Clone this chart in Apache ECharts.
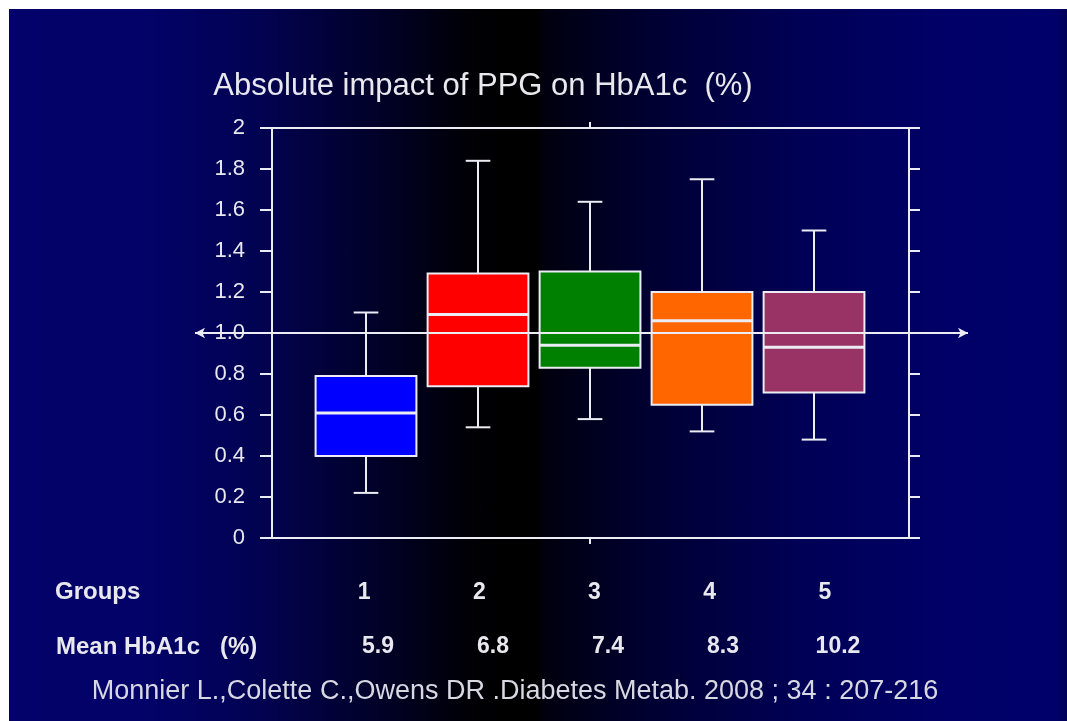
<!DOCTYPE html>
<html>
<head>
<meta charset="utf-8">
<script src="https://cdn.jsdelivr.net/npm/echarts@6/dist/echarts.min.js"></script>
<style>
  html, body { margin: 0; padding: 0; background: #ffffff; }
  #bg {
    position: absolute; left: 9px; top: 9px; width: 1058px; height: 712px;
    background: linear-gradient(to right,
      #02026a 0%, #020268 13%, #020252 23.5%, #010128 35%, #000006 43.5%,
      #000000 47%, #000000 50%, #00000e 50.5%, #000032 60.5%, #000056 75%,
      #000068 89%, #00006a 98.6%, #00005a 100%);
  }
  #chart { position: absolute; left: 0; top: 0; width: 1067px; height: 721px; }
</style>
</head>
<body>
<div id="bg"></div>
<div id="chart"></div>
<script>
// ---- data ----
const groups = ['1', '2', '3', '4', '5'];
const meanHbA1c = ['5.9', '6.8', '7.4', '8.3', '10.2'];
const whiskerLow = [0.22, 0.54, 0.58, 0.52, 0.48];
const q1 = [0.40, 0.74, 0.83, 0.65, 0.71];
const median = [0.61, 1.09, 0.94, 1.06, 0.93];
const q3 = [0.79, 1.29, 1.30, 1.20, 1.20];
const whiskerHigh = [1.10, 1.84, 1.64, 1.75, 1.50];
const yTickLabels = ['0', '0.2', '0.4', '0.6', '0.8', '1.0', '1.2', '1.4', '1.6', '1.8', '2'];
const referenceValue = 1.0;
const titleText = 'Absolute impact of PPG on HbA1c  (%)';
const citation = 'Monnier L.,Colette C.,Owens DR .Diabetes Metab. 2008 ; 34 : 207-216';

// ---- styles ----
const boxColors = ['#0000ff', '#ff0000', '#008000', '#ff6600', '#993366'];
const lineColor = '#ececf4';
const textColor = '#e8e8ee';
const FONT = '"Liberation Sans", Arial, sans-serif';

const boxData = groups.map((g, i) => [i + 1, whiskerLow[i], q1[i], median[i], q3[i], whiskerHigh[i]]);

const chart = echarts.init(document.getElementById('chart'), null, { renderer: 'canvas' });

function renderBox(params, api) {
  const x = api.value(0);
  const pLow = api.coord([x, api.value(1)]);
  const pQ1 = api.coord([x, api.value(2)]);
  const pMed = api.coord([x, api.value(3)]);
  const pQ3 = api.coord([x, api.value(4)]);
  const pHigh = api.coord([x, api.value(5)]);
  const halfW = api.size([0.9, 0])[0] / 2;
  const capHalf = api.size([0.22, 0])[0] / 2;
  const cx = pMed[0];
  const ls = { stroke: lineColor, lineWidth: 2 };
  return {
    type: 'group',
    children: [
      { type: 'line', shape: { x1: cx, y1: pQ1[1], x2: cx, y2: pLow[1] }, style: ls },
      { type: 'line', shape: { x1: cx, y1: pQ3[1], x2: cx, y2: pHigh[1] }, style: ls },
      { type: 'line', shape: { x1: cx - capHalf, y1: pLow[1], x2: cx + capHalf, y2: pLow[1] }, style: ls },
      { type: 'line', shape: { x1: cx - capHalf, y1: pHigh[1], x2: cx + capHalf, y2: pHigh[1] }, style: ls },
      { type: 'rect', shape: { x: cx - halfW, y: pQ3[1], width: halfW * 2, height: pQ1[1] - pQ3[1] },
        style: { fill: boxColors[params.dataIndex], stroke: lineColor, lineWidth: 2 } },
      { type: 'line', shape: { x1: cx - halfW, y1: pMed[1], x2: cx + halfW, y2: pMed[1] },
        style: { stroke: lineColor, lineWidth: 3 } }
    ]
  };
}

const option = {
  backgroundColor: 'transparent',
  animation: false,
  grid: [
    { left: 272, top: 128, width: 637, height: 410 },          // frame + boxes
    { left: 195, top: 128, width: 773, height: 410 },          // reference line
    { left: 306.5, top: 560, width: 576, height: 20 },         // group numbers row
    { left: 320.5, top: 610, width: 575, height: 20 }          // mean HbA1c row
  ],
  xAxis: [
    { gridIndex: 0, type: 'value', position: 'bottom', min: 0.1607, max: 5.848,
      axisLine: { show: true, onZero: false, lineStyle: { color: lineColor, width: 2 } },
      axisTick: { show: true, inside: false, length: 6, customValues: [3], lineStyle: { color: lineColor, width: 2 } },
      axisLabel: { show: false }, splitLine: { show: false } },
    { gridIndex: 0, type: 'value', position: 'top', min: 0.1607, max: 5.848,
      axisLine: { show: true, onZero: false, lineStyle: { color: lineColor, width: 2 } },
      axisTick: { show: true, inside: false, length: 6, customValues: [3], lineStyle: { color: lineColor, width: 2 } },
      axisLabel: { show: false }, splitLine: { show: false } },
    { gridIndex: 1, type: 'value', min: 0, max: 1, show: false },
    { gridIndex: 2, type: 'category', data: groups, position: 'bottom',
      axisLine: { show: false }, axisTick: { show: false },
      axisLabel: { color: textColor, fontFamily: FONT, fontWeight: 'bold', fontSize: 23,
                   verticalAlign: 'middle', margin: 13 } },
    { gridIndex: 3, type: 'category', data: meanHbA1c, position: 'bottom',
      axisLine: { show: false }, axisTick: { show: false },
      axisLabel: { color: textColor, fontFamily: FONT, fontWeight: 'bold', fontSize: 23,
                   verticalAlign: 'middle', margin: 17 } }
  ],
  yAxis: [
    { gridIndex: 0, type: 'value', position: 'left', min: 0, max: 2, interval: 0.2,
      axisLine: { show: true, onZero: false, lineStyle: { color: lineColor, width: 2 } },
      axisTick: { show: true, inside: false, length: 12, lineStyle: { color: lineColor, width: 2 } },
      axisLabel: { color: textColor, fontFamily: FONT, fontSize: 22, margin: 27,
                   formatter: v => yTickLabels[Math.round(v / 0.2)] },
      splitLine: { show: false } },
    { gridIndex: 0, type: 'value', position: 'right', min: 0, max: 2, interval: 0.2,
      axisLine: { show: true, onZero: false, lineStyle: { color: lineColor, width: 2 } },
      axisTick: { show: true, inside: false, length: 11, lineStyle: { color: lineColor, width: 2 } },
      axisLabel: { show: false }, splitLine: { show: false } },
    { gridIndex: 1, type: 'value', min: 0, max: 2, show: false },
    { gridIndex: 2, type: 'value', show: false },
    { gridIndex: 3, type: 'value', show: false }
  ],
  series: [
    { type: 'custom', name: 'PPG impact', xAxisIndex: 0, yAxisIndex: 0,
      renderItem: renderBox, encode: { x: 0, y: [1, 2, 3, 4, 5] }, data: boxData, z: 2 },
    { type: 'line', xAxisIndex: 2, yAxisIndex: 2, data: [], z: 5,
      markLine: { silent: true, symbol: ['arrow', 'arrow'], symbolSize: [8, 10], label: { show: false },
                  lineStyle: { color: lineColor, width: 2, type: 'solid' },
                  data: [{ yAxis: referenceValue }] } }
  ],
  graphic: [
    { type: 'text', x: 483, y: 86, style: { text: titleText, fill: textColor, font: '31px ' + FONT,
        align: 'center', verticalAlign: 'middle' } },
    { type: 'text', x: 55, y: 592, style: { text: 'Groups', fill: textColor, font: 'bold 24px ' + FONT,
        align: 'left', verticalAlign: 'middle' } },
    { type: 'text', x: 56, y: 647, style: { text: 'Mean HbA1c   (%)', fill: textColor, font: 'bold 24px ' + FONT,
        align: 'left', verticalAlign: 'middle' } },
    { type: 'text', x: 515, y: 692, style: { text: citation, fill: '#d8d8e2', font: '27px ' + FONT,
        align: 'center', verticalAlign: 'middle' } }
  ]
};
chart.setOption(option);
</script>
</body>
</html>
